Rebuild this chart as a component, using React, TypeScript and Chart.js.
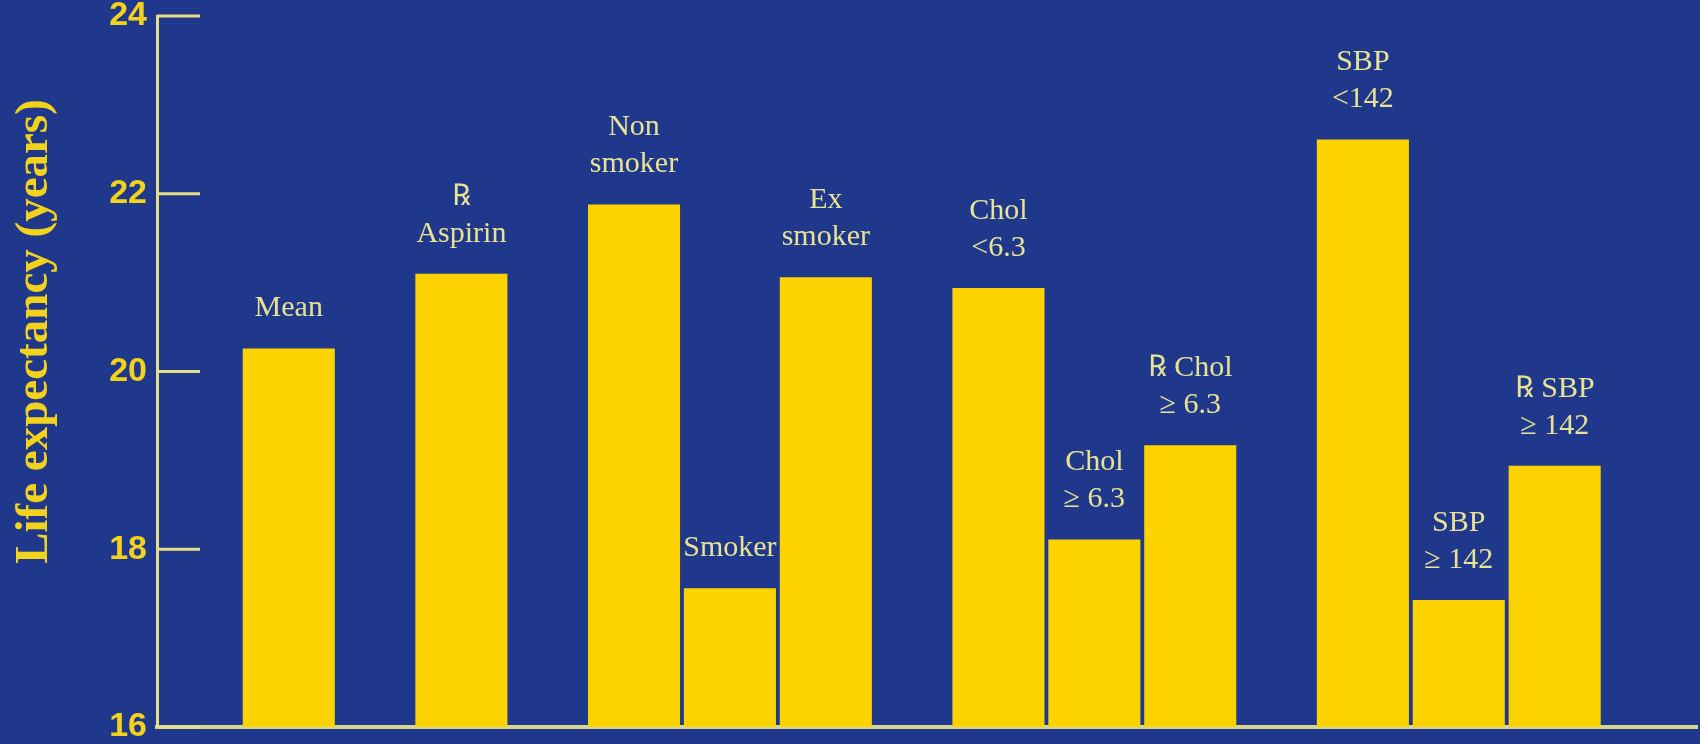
import React, { useEffect, useRef } from "react";
import { Chart, registerables } from "chart.js";

Chart.register(...registerables);

// ---- data ----
const categories = [
  "Mean",
  "Aspirin",
  "Non smoker",
  "Smoker",
  "Ex smoker",
  "Chol <6.3",
  "Chol ≥6.3",
  "Rx Chol ≥6.3",
  "SBP <142",
  "SBP ≥142",
  "Rx SBP ≥142",
];
const barLabels: string[][] = [
  ["Mean"],
  ["℞", "Aspirin"],
  ["Non", "smoker"],
  ["Smoker"],
  ["Ex", "smoker"],
  ["Chol", "<6.3"],
  ["Chol", "≥ 6.3"],
  ["℞ Chol", "≥ 6.3"],
  ["SBP", "<142"],
  ["SBP", "≥ 142"],
  ["℞ SBP", "≥ 142"],
];
const groupOf = [0, 1, 2, 2, 2, 3, 3, 3, 4, 4, 4];
const lifeExpectancy = [20.26, 21.1, 21.88, 17.56, 21.06, 20.94, 18.11, 19.17, 22.61, 17.43, 18.94];
const yTicks = [16, 18, 20, 22, 24];
const yTitle = "Life expectancy (years)";

// ---- style ----
const BG = "#1f388b";
const BAR = "#fcd300";
const LABEL = "#e8e294";
const TICK_TEXT = "#f2d21c";
const AXIS = "#e4de8a";
const GROUP_GAP = 0.8;

const barLabelPlugin = {
  id: "barLabels",
  afterDatasetsDraw(chart: any) {
    const ctx = chart.ctx;
    const meta = chart.getDatasetMeta(0);
    ctx.save();
    ctx.font = "30px 'Liberation Serif', 'DejaVu Serif', serif";
    ctx.fillStyle = LABEL;
    ctx.textAlign = "center";
    ctx.textBaseline = "middle";
    meta.data.forEach((el: any, i: number) => {
      const lines = barLabels[i];
      const n = lines.length;
      lines.forEach((line, j) => {
        ctx.fillText(line, el.x, el.y - 40 - (n - 1 - j) * 37);
      });
    });
    ctx.restore();
  },
};

const innerTicksPlugin = {
  id: "innerTicks",
  afterDraw(chart: any) {
    const ctx = chart.ctx;
    const ys = chart.scales.y;
    const left = chart.chartArea.left;
    ctx.save();
    ctx.strokeStyle = AXIS;
    ctx.lineWidth = 3;
    ys.ticks.forEach((t: any) => {
      const py = ys.getPixelForValue(t.value);
      ctx.beginPath();
      ctx.moveTo(left, py);
      ctx.lineTo(left + 43, py);
      ctx.stroke();
    });
    // axis title
    const { top, bottom } = chart.chartArea;
    ctx.translate(35, (top + bottom) / 2 - 40);
    ctx.rotate(-Math.PI / 2);
    ctx.font = "bold 47px 'Liberation Serif', 'DejaVu Serif', serif";
    ctx.fillStyle = TICK_TEXT;
    ctx.textAlign = "center";
    ctx.textBaseline = "middle";
    ctx.fillText(yTitle, 0, 0);
    ctx.restore();
  },
};

const bgPlugin = {
  id: "bg",
  beforeDraw(chart: any) {
    const ctx = chart.ctx;
    ctx.save();
    ctx.fillStyle = BG;
    ctx.fillRect(0, 0, chart.width, chart.height);
    ctx.restore();
  },
};

export default function App() {
  const ref = useRef<HTMLCanvasElement | null>(null);

  useEffect(() => {
    document.body.style.margin = "0";
    document.body.style.background = BG;
    if (!ref.current) return;
    const points = lifeExpectancy.map((v, i) => ({ x: i + groupOf[i] * GROUP_GAP, y: v }));
    const chart = new Chart(ref.current, {
      type: "bar",
      data: {
        labels: categories,
        datasets: [
          {
            label: yTitle,
            data: points as any,
            backgroundColor: BAR,
            borderWidth: 0,
            categoryPercentage: 1,
            barPercentage: 0.96,
          },
        ],
      },
      options: {
        responsive: false,
        animation: false,
        devicePixelRatio: 1,
        layout: { padding: { top: 16, right: 3, bottom: 17, left: 0 } },
        plugins: { legend: { display: false }, tooltip: { enabled: false } },
        scales: {
          x: {
            type: "linear",
            offset: false,
            min: -1.374,
            max: 14.684,
            afterBuildTicks: (s: any) => {
              s.ticks = [];
            },
            grid: { display: false, drawTicks: false },
            ticks: { display: false },
            border: { display: true, color: "#d6d68e", width: 4 },
          },
          y: {
            type: "linear",
            min: 16,
            max: 24,
            afterBuildTicks: (s: any) => {
              s.ticks = yTicks.map((v) => ({ value: v }));
            },
            afterFit: (s: any) => {
              s.width = 157;
            },
            grid: { display: false, drawTicks: false },
            border: { display: true, color: AXIS, width: 3 },
            ticks: {
              color: TICK_TEXT,
              padding: 10,
              font: { family: "'Liberation Sans', Arial, sans-serif", size: 34, weight: "bold", lineHeight: 0.2 },
            },
            title: { display: false },
          },
        },
      },
      plugins: [bgPlugin, barLabelPlugin, innerTicksPlugin],
    });
    return () => chart.destroy();
  }, []);

  return (
    <div style={{ width: 1700, height: 744 }}>
      <canvas ref={ref} width={1700} height={744} style={{ display: "block" }} />
    </div>
  );
}
